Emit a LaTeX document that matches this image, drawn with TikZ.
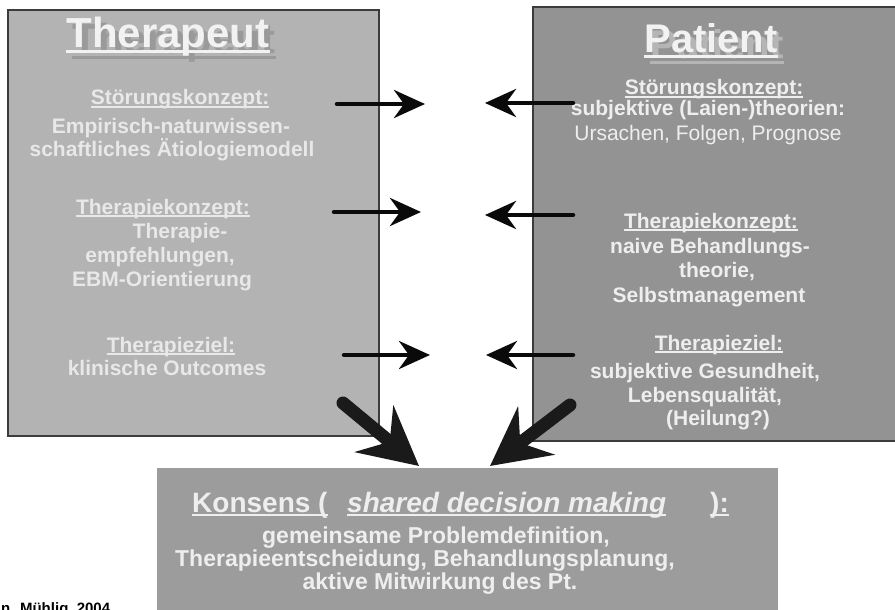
\documentclass[tikz,border=0pt]{standalone}
\usepackage{fontspec}
\setmainfont{Liberation Sans}
\usetikzlibrary{arrows.meta}
\definecolor{boxL}{HTML}{B3B3B3}
\definecolor{boxR}{HTML}{939393}
\definecolor{boxB}{HTML}{9C9C9C}
\definecolor{edgeC}{HTML}{3C3C3C}
\definecolor{txtL}{HTML}{E8E8E8}
\definecolor{txtR}{HTML}{EEEEEE}
\definecolor{txtT}{HTML}{F2F2F2}
\definecolor{shadL}{HTML}{9A9A9A}
\definecolor{shadR}{HTML}{B5B5B5}
\definecolor{arrC}{HTML}{0A0A0A}
\definecolor{bigC}{HTML}{1A1A1A}
\newsavebox\ulbox
\newcommand\myul[1]{\sbox\ulbox{#1}\rlap{\rule[-0.13em]{\wd\ulbox}{0.075em}}\usebox\ulbox}
\tikzset{
  panel/.style={draw=edgeC, line width=1.5pt},
  ln/.style={anchor=base, inner sep=0pt, font=\fontsize{21}{23}\selectfont\bfseries},
  lt/.style={ln, text=txtL},
  rt/.style={ln, text=txtR},
  title/.style={anchor=base, inner sep=0pt, font=\fontsize{42}{48}\selectfont\bfseries},
  bt/.style={anchor=base, inner sep=0pt, text=txtR, font=\fontsize{23}{25}\selectfont\bfseries},
  bh/.style={anchor=base west, inner sep=0pt, text=txtR, font=\fontsize{28}{30}\selectfont\bfseries},
  harrow/.style={draw=arrC, line width=4.5pt, line cap=round, -{Stealth[length=31pt, width=28pt, inset=10pt]}},
  bigarrow/.style={draw=bigC, line width=13pt, line cap=round, -{Stealth[length=58pt, width=60pt, inset=20pt]}}
}
\begin{document}
\begin{tikzpicture}[x=1pt, y=-1pt]
\useasboundingbox (0,0) rectangle (895,610);
% panels
\path[panel, fill=boxL] (8,10) rectangle (379,436);
\path[panel, fill=boxR] (533,7) rectangle (905,441);
\path[fill=boxB] (157,468) rectangle (778,620);

% titles with shadow
\node[title, text=shadL] (tshad) at (174,54) {\myul{Therapeut}};
\node[title, text=txtT] (ttitle) at (168,48) {\myul{Therapeut}};
\node[title, text=shadR, font=\fontsize{40}{46}\selectfont\bfseries] (pshad) at (717,59) {\myul{Patient}};
\node[title, text=txtT, font=\fontsize{40}{46}\selectfont\bfseries] (ptitle) at (711,53) {\myul{Patient}};

% left texts
\node[lt] (l1) at (180,105) {\myul{Störungskonzept:}};
\node[lt] (l2) at (171,133) {Empirisch-naturwissen-};
\node[lt] (l3) at (172,156) {schaftliches Ätiologiemodell};
\node[lt] (l4) at (163,214) {\myul{Therapiekonzept:}};
\node[lt] (l5) at (180,238) {Therapie-};
\node[lt] (l6) at (160,262) {empfehlungen,};
\node[lt] (l7) at (162,286) {EBM-Orientierung};
\node[lt] (l8) at (171,352) {\myul{Therapieziel:}};
\node[lt] (l9) at (167,375) {klinische Outcomes};

% right texts
\node[rt] (r1) at (714,95) {\myul{Störungskonzept:}};
\node[rt] (r2) at (708,116) {subjektive (Laien-)theorien:};
\node[rt, font=\fontsize{21}{23}\selectfont] (r3) at (708,140) {Ursachen, Folgen, Prognose};
\node[rt] (r4) at (711,228) {\myul{Therapiekonzept:}};
\node[rt] (r5) at (710,253) {naive Behandlungs-};
\node[rt] (r6) at (717,277) {theorie,};
\node[rt] (r7) at (709,302) {Selbstmanagement};
\node[rt] (r8) at (719,350) {\myul{Therapieziel:}};
\node[rt] (r9) at (705,378) {subjektive Gesundheit,};
\node[rt] (r10) at (705,402) {Lebensqualität,};
\node[rt] (r11) at (718,425) {(Heilung?)};

% bottom texts
\node[bh] (k1) at (192,512) {\myul{Konsens (}};
\node[bh, font=\fontsize{28}{30}\selectfont\bfseries\itshape] (k2) at (347,512) {\myul{shared decision making}};
\node[bh] (k3) at (710,512) {\myul{):}};
\node[bt] (b1) at (436,543) {gemeinsame Problemdefinition,};
\node[bt] (b2) at (425,566) {Therapieentscheidung, Behandlungsplanung,};
\node[bt] (b3) at (440,589) {aktive Mitwirkung des Pt.};

% citation
\node[anchor=base west, inner sep=0pt, font=\fontsize{15}{17}\selectfont\bfseries] (cite) at (1,613) {n. Mühlig, 2004};

% arrow end points
\coordinate (a1s) at (337,104); \coordinate (a1e) at (425,104);
\coordinate (a2s) at (573,103); \coordinate (a2e) at (485,103);
\coordinate (a3s) at (334,212); \coordinate (a3e) at (421,212);
\coordinate (a4s) at (573,215); \coordinate (a4e) at (485,215);
\coordinate (a5s) at (344,355); \coordinate (a5e) at (430,355);
\coordinate (a6s) at (573,355); \coordinate (a6e) at (486,355);
\coordinate (d1s) at (343,403); \coordinate (d1e) at (419,466);
\coordinate (d2s) at (570,405); \coordinate (d2e) at (490,466);

\draw[harrow] (a1s) -- (a1e);
\draw[harrow] (a2s) -- (a2e);
\draw[harrow] (a3s) -- (a3e);
\draw[harrow] (a4s) -- (a4e);
\draw[harrow] (a5s) -- (a5e);
\draw[harrow] (a6s) -- (a6e);
\draw[bigarrow] (d1s) -- (d1e);
\draw[bigarrow] (d2s) -- (d2e);
\end{tikzpicture}
\end{document}
